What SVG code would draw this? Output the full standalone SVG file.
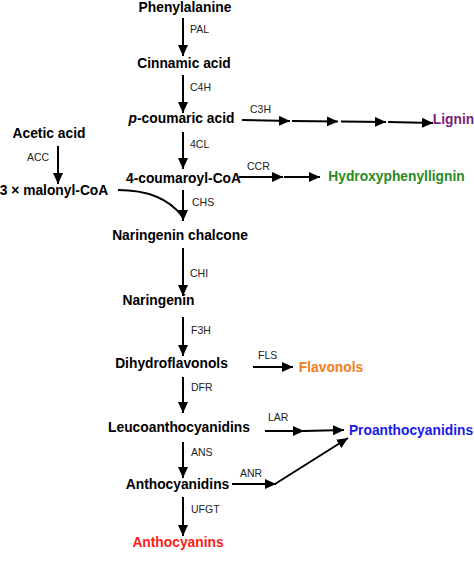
<svg xmlns="http://www.w3.org/2000/svg" width="474" height="565" viewBox="0 0 474 565">
<defs>
<marker id="ah" markerUnits="userSpaceOnUse" markerWidth="11" markerHeight="10" refX="11" refY="5" orient="auto">
<path d="M0,0 L11,5 L0,10 z" fill="#000"/>
</marker>
<style>
.n{font-family:"Liberation Sans",Arial,sans-serif;font-weight:bold;font-size:13.8px;fill:#000;text-anchor:middle}
.e{font-family:"Liberation Sans",Arial,sans-serif;font-size:10.5px;fill:#222}
.c line,.c path{stroke:#000;stroke-width:2;fill:none;marker-end:url(#ah)}
</style>
</defs>
<rect width="474" height="565" fill="#fff"/>
<g class="c" id="connectors">
<line x1="183" y1="18" x2="183" y2="56"/>
<line x1="183" y1="75" x2="183" y2="113"/>
<line x1="183" y1="132" x2="183" y2="169"/>
<line x1="183" y1="190" x2="183" y2="221"/>
<path d="M118,190 Q162,190 182,216" style="marker-end:none"/>
<line x1="183" y1="248" x2="183" y2="296"/>
<line x1="183" y1="317" x2="183" y2="356"/>
<line x1="183" y1="377" x2="183" y2="413"/>
<line x1="183" y1="442" x2="183" y2="478"/>
<line x1="183" y1="497" x2="183" y2="536"/>
<line x1="58" y1="146" x2="58" y2="184"/>
<line x1="242" y1="120" x2="290" y2="121"/>
<line x1="292" y1="121" x2="338" y2="121.5"/>
<line x1="341" y1="121.5" x2="386" y2="122"/>
<line x1="388" y1="122" x2="433" y2="123"/>
<line x1="239" y1="177" x2="283" y2="177"/>
<line x1="284" y1="177" x2="320" y2="177"/>
<line x1="253" y1="367" x2="293" y2="367"/>
<line x1="265" y1="431" x2="304" y2="431"/>
<line x1="304" y1="431" x2="344" y2="430"/>
<line x1="232" y1="484" x2="276" y2="484"/>
<line x1="275" y1="484" x2="348" y2="438"/>
</g>
<g id="enzymes">
<text class="e" x="190" y="33">PAL</text>
<text class="e" x="190" y="91">C4H</text>
<text class="e" x="250" y="113">C3H</text>
<text class="e" x="190" y="148">4CL</text>
<text class="e" x="27" y="161">ACC</text>
<text class="e" x="247" y="170">CCR</text>
<text class="e" x="192" y="206">CHS</text>
<text class="e" x="190" y="277">CHI</text>
<text class="e" x="191" y="334">F3H</text>
<text class="e" x="258" y="359">FLS</text>
<text class="e" x="191" y="391">DFR</text>
<text class="e" x="268" y="421">LAR</text>
<text class="e" x="191" y="456">ANS</text>
<text class="e" x="240" y="477">ANR</text>
<text class="e" x="191" y="513">UFGT</text>
</g>
<g id="phenylalanine"><text class="n" x="185" y="12">Phenylalanine</text></g>
<g id="cinnamic"><text class="n" x="184" y="68">Cinnamic acid</text></g>
<g id="pcoumaric"><text class="n" x="181.5" y="123"><tspan font-style="italic">p</tspan>-coumaric acid</text></g>
<g id="coumaroylcoa"><text class="n" x="183.5" y="183">4-coumaroyl-CoA</text></g>
<g id="acetic"><text class="n" x="49" y="138">Acetic acid</text></g>
<g id="malonyl"><text class="n" x="54" y="195">3 × malonyl-CoA</text></g>
<g id="chalcone"><text class="n" x="180" y="240">Naringenin chalcone</text></g>
<g id="naringenin"><text class="n" x="158.5" y="305">Naringenin</text></g>
<g id="dihydroflavonols"><text class="n" x="171.5" y="368">Dihydroflavonols</text></g>
<g id="leuco"><text class="n" x="179" y="432">Leucoanthocyanidins</text></g>
<g id="anthocyanidins"><text class="n" x="177.5" y="489">Anthocyanidins</text></g>
<g id="anthocyanins"><text class="n" x="178" y="547" style="fill:#ff1a1a">Anthocyanins</text></g>
<g id="lignin"><text class="n" x="453.5" y="124" style="fill:#7a1e7a">Lignin</text></g>
<g id="hydroxyphenyllignin"><text class="n" x="396.5" y="181" style="fill:#2a8a1e">Hydroxyphenyllignin</text></g>
<g id="flavonols"><text class="n" x="331" y="372" style="fill:#f47b20">Flavonols</text></g>
<g id="proanthocyanidins"><text class="n" x="411" y="435" style="fill:#1a1ae6">Proanthocyanidins</text></g>
</svg>
